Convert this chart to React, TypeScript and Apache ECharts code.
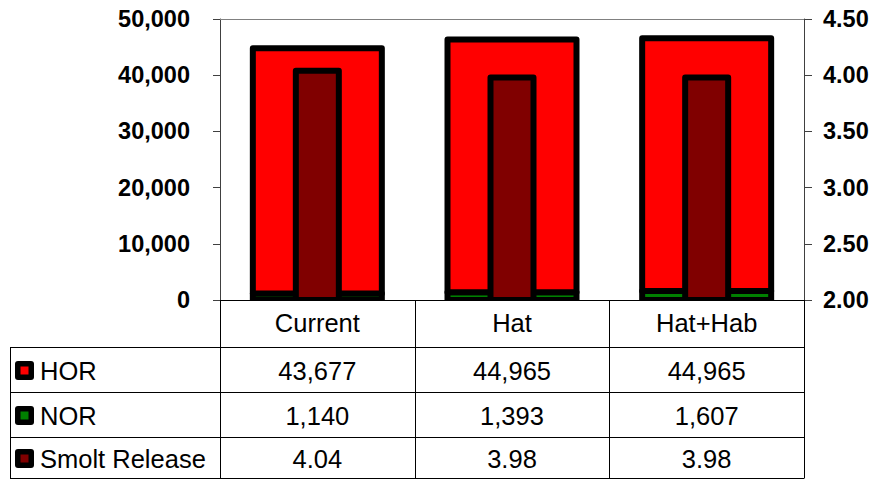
import { useEffect, useRef } from "react";
import * as echarts from "echarts";

// Scenario names and fish numbers per scenario
const categories = ["Current", "Hat", "Hat+Hab"];
const horValues = [43677, 44965, 44965];
const norValues = [1140, 1393, 1607];
const smoltRelease = [4.04, 3.98, 3.98];

// Axis ranges: fish counts on the left, smolt release on the right
const fishAxis = { min: 0, max: 50000, interval: 10000 };
const smoltAxis = { min: 2, max: 4.5, interval: 0.5 };

const FONT = '"Liberation Sans", Arial, Helvetica, sans-serif';
const RED = "#ff0000";
const GREEN = "#008000";
const MAROON = "#800000";

// Plot frame and data table geometry
const PLOT = { left: 220, right: 804, top: 19, bottom: 300 };
const TABLE = { left: 10, headerBottom: 347, rowHeight: 45, bottom: 478 };
const FISH_BAR_WIDTH = 129;
const SMOLT_BAR_WIDTH = 43;
const OUTLINE = 6;
const TEXT_SIZE = 25.5;
const AXIS_TEXT_SIZE = 23.5;

type Row = { name: string; color: string; values: number[]; fmt: (v: number) => string };

const rows: Row[] = [
  { name: "HOR", color: RED, values: horValues, fmt: (v) => v.toLocaleString("en-US") },
  { name: "NOR", color: GREEN, values: norValues, fmt: (v) => v.toLocaleString("en-US") },
  { name: "Smolt Release", color: MAROON, values: smoltRelease, fmt: (v) => v.toFixed(2) },
];

// Column rectangle between two values, outlined in black with a centred stroke
function outlinedBar(width: number, color: string) {
  return (params: any, api: any) => {
    const low = api.coord([api.value(0), api.value(1)]);
    const high = api.coord([api.value(0), api.value(2)]);
    return {
      type: "rect",
      shape: {
        x: low[0] - width / 2,
        y: high[1],
        width,
        height: low[1] - high[1],
      },
      style: {
        fill: color,
        stroke: "#000",
        lineWidth: OUTLINE,
        lineJoin: "round",
      },
    };
  };
}

function buildTable() {
  const els: any[] = [];
  const colW = (PLOT.right - PLOT.left) / categories.length;
  const line = (x1: number, y1: number, x2: number, y2: number) => ({
    type: "line",
    shape: { x1, y1, x2, y2 },
    style: { stroke: "#000", lineWidth: 1 },
    z: 100,
  });

  // white strip that hides bar outlines spilling below the baseline
  els.push({
    type: "rect",
    shape: { x: PLOT.left + 1, y: PLOT.bottom + 1, width: PLOT.right - PLOT.left - 1, height: 8 },
    style: { fill: "#fff" },
    z: 90,
  });

  // top frame line of the plot area
  els.push({
    type: "line",
    shape: { x1: PLOT.left, y1: PLOT.top + 0.5, x2: PLOT.right, y2: PLOT.top + 0.5 },
    style: { stroke: "#808080", lineWidth: 1 },
    z: 100,
  });

  // vertical grid lines of the table
  for (let i = 0; i <= categories.length; i++) {
    const x = Math.round(PLOT.left + i * colW) + 0.5;
    els.push(line(x, PLOT.bottom, x, TABLE.bottom));
  }
  els.push(line(TABLE.left + 0.5, TABLE.headerBottom, TABLE.left + 0.5, TABLE.bottom));

  // horizontal lines
  const rowTops: number[] = [];
  for (let r = 0; r < rows.length; r++) {
    const y = TABLE.headerBottom + r * TABLE.rowHeight;
    rowTops.push(y);
    els.push(line(TABLE.left, y + 0.5, PLOT.right + 0.5, y + 0.5));
  }
  els.push(line(TABLE.left, TABLE.bottom + 0.5, PLOT.right + 0.5, TABLE.bottom + 0.5));

  rows.forEach((row, r) => {
    const top = rowTops[r];
    const bottom = r + 1 < rowTops.length ? rowTops[r + 1] : TABLE.bottom;
    const cy = (top + bottom) / 2 + 1;

    // legend key
    els.push({
      type: "rect",
      shape: { x: 15, y: cy - 9.5, width: 19, height: 19, r: 3 },
      style: { fill: "#000" },
      z: 100,
    });
    els.push({
      type: "rect",
      shape: { x: 20.5, y: cy - 4, width: 8, height: 8 },
      style: { fill: row.color },
      z: 101,
    });
    els.push({
      type: "text",
      x: 40,
      y: cy,
      style: {
        text: row.name,
        font: `${TEXT_SIZE}px ${FONT}`,
        fill: "#000",
        align: "left",
        verticalAlign: "middle",
        textAlign: "left",
        textVerticalAlign: "middle",
      },
      z: 100,
    });

    row.values.forEach((v, c) => {
      els.push({
        type: "text",
        x: PLOT.left + (c + 0.5) * colW,
        y: cy,
        style: {
          text: row.fmt(v),
          font: `${TEXT_SIZE}px ${FONT}`,
          fill: "#000",
          align: "center",
          verticalAlign: "middle",
          textAlign: "center",
          textVerticalAlign: "middle",
        },
        z: 100,
      });
    });
  });

  return els;
}

export default function App() {
  const ref = useRef<HTMLDivElement>(null);

  useEffect(() => {
    if (!ref.current) return;
    const chart = echarts.init(ref.current, undefined, { renderer: "svg" });

    // [category index, bottom value, top value]
    const norData = categories.map((_, i) => [i, 0, norValues[i]]);
    const horData = categories.map((_, i) => [i, norValues[i], norValues[i] + horValues[i]]);
    const smoltData = categories.map((_, i) => [i, smoltAxis.min, smoltRelease[i]]);

    chart.setOption({
      animation: false,
      backgroundColor: "#fff",
      grid: {
        left: PLOT.left,
        top: PLOT.top,
        width: PLOT.right - PLOT.left,
        height: PLOT.bottom - PLOT.top,
        containLabel: false,
      },
      xAxis: {
        type: "category",
        data: categories,
        position: "bottom",
        axisLine: { show: true, lineStyle: { color: "#000", width: 1 } },
        axisTick: { show: false },
        axisLabel: {
          color: "#000",
          fontFamily: FONT,
          fontSize: TEXT_SIZE,
          margin: 10,
        },
        splitLine: { show: false },
      },
      yAxis: [
        {
          type: "value",
          min: fishAxis.min,
          max: fishAxis.max,
          interval: fishAxis.interval,
          axisLine: { show: true, lineStyle: { color: "#404040", width: 1 } },
          axisTick: { show: true, length: 7, lineStyle: { color: "#404040" } },
          splitLine: { show: false },
          axisLabel: {
            color: "#000",
            fontFamily: FONT,
            fontSize: AXIS_TEXT_SIZE,
            fontWeight: "bold",
            margin: 30,
            formatter: (v: number) => v.toLocaleString("en-US"),
          },
        },
        {
          type: "value",
          position: "right",
          min: smoltAxis.min,
          max: smoltAxis.max,
          interval: smoltAxis.interval,
          axisLine: { show: true, lineStyle: { color: "#404040", width: 1 } },
          axisTick: { show: true, length: 8, lineStyle: { color: "#404040" } },
          splitLine: { show: false },
          axisLabel: {
            color: "#000",
            fontFamily: FONT,
            fontSize: AXIS_TEXT_SIZE,
            fontWeight: "bold",
            margin: 19,
            formatter: (v: number) => v.toFixed(2),
          },
        },
      ],
      series: [
        {
          name: "NOR",
          type: "custom",
          yAxisIndex: 0,
          encode: { x: 0, y: [1, 2] },
          data: norData,
          renderItem: outlinedBar(FISH_BAR_WIDTH, GREEN),
          z: 2,
        },
        {
          name: "HOR",
          type: "custom",
          yAxisIndex: 0,
          encode: { x: 0, y: [1, 2] },
          data: horData,
          renderItem: outlinedBar(FISH_BAR_WIDTH, RED),
          z: 3,
        },
        {
          name: "Smolt Release",
          type: "custom",
          yAxisIndex: 1,
          encode: { x: 0, y: [1, 2] },
          data: smoltData,
          renderItem: outlinedBar(SMOLT_BAR_WIDTH, MAROON),
          z: 4,
        },
      ],
      graphic: buildTable(),
    });

    return () => chart.dispose();
  }, []);

  return (
    <div
      ref={ref}
      style={{ position: "fixed", left: 0, top: 0, width: 878, height: 479, background: "#fff" }}
    />
  );
}
